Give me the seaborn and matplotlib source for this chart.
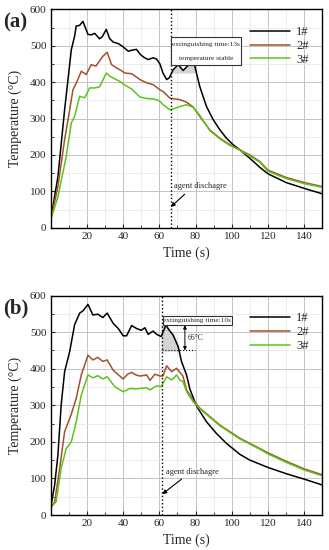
import numpy as np
import pandas as pd
import matplotlib
matplotlib.use("Agg")
from matplotlib import pyplot as plt
from matplotlib.ticker import MultipleLocator
from matplotlib.patches import Rectangle
import seaborn as sns

# ---- panel (a) ----
a1_t = [0, 4, 7.7, 11.4, 13.2, 14.1, 16, 17.8, 20.6, 22.5, 24.3, 27, 28.5, 30.7, 32.5, 34.5, 37.3, 40, 42.8, 45,
        47.4, 49.5, 51.5, 53.8, 56.6, 58.5, 60.3, 62, 64, 65.5, 67.6, 70.4, 73.1, 75.9, 78.6, 79.5, 82.3, 86, 89.7,
        93.4, 97, 100.7, 104.4, 109.9, 115.4, 120, 130, 140, 150]
a1_y = [21, 140, 324, 489, 526, 554, 556, 567, 531, 530, 534, 519, 525, 545, 520, 510, 506, 497, 485, 488,
        490, 476, 468, 462, 467, 463, 450, 425, 407, 412, 434, 448, 432, 446, 448, 445, 388, 333, 297,
        269, 246, 228, 214, 191, 166, 148, 124, 108, 93]

a2_t = [0, 4, 7.7, 10.5, 12.3, 15, 16.9, 19.6, 22.4, 25, 28.8, 31.2, 33.6, 36, 38.2, 41, 44.7, 47, 49.3, 53, 56.6,
        60.3, 62.1, 65.8, 68.5, 71.3, 75, 78.6, 82.3, 87.8, 93.4, 98.9, 104.4, 109.9, 115.4, 120, 130, 140, 150]
a2_y = [21, 113, 242, 324, 379, 407, 430, 421, 448, 444, 471, 482, 448, 440, 434, 425, 423, 415, 407, 398, 393,
        379, 374, 356, 354, 352, 345, 332, 306, 269, 246, 228, 214, 200, 182, 158, 138, 124, 113]

a3_t = [0, 4, 8.6, 11.4, 13.2, 16, 18.8, 21.5, 24.2, 27, 30.7, 32.7, 35, 38.2, 41, 44.7, 47, 49.3, 53, 56, 58.5,
        60.3, 62.1, 65.8, 68.5, 71.3, 75, 78.6, 82.3, 87.8, 93.4, 98.9, 104.4, 109.9, 115.4, 120, 130, 140, 150]
a3_y = [21, 85, 196, 288, 306, 361, 357, 384, 384, 387, 425, 416, 410, 402, 392, 381, 370, 359, 355, 354, 352,
        347, 338, 324, 328, 333, 338, 331, 309, 267, 244, 226, 213, 197, 180, 155, 135, 121, 111]

# ---- panel (b) ----
b1_t = [0, 2.2, 4, 5.8, 7.7, 10.5, 13.2, 16, 17.8, 20.6, 23.3, 26, 28.8, 31.2, 34.5, 37.3, 40, 41.9, 44.7, 47.4,
        50, 52, 53.8, 56.6, 58.5, 61, 63.6, 65.5, 67.6, 70.4, 72.2, 75, 76.8, 80.5, 86, 91.5, 97, 104.4, 110,
        120, 130, 140, 150]
b1_y = [20, 82, 164, 301, 392, 447, 520, 552, 558, 576, 547, 549, 540, 552, 524, 510, 490, 490, 518, 510,
        505, 512, 494, 503, 494, 488, 519, 505, 492, 460, 420, 383, 345, 298, 255, 223, 196, 166, 150,
        130, 113, 98, 82]

b2_t = [0, 2.2, 5, 7.7, 11.2, 14.1, 16.9, 20.6, 23.3, 26, 28.8, 31.2, 34.5, 37, 40, 42.5, 44.7, 47, 49.3, 53, 54.8,
        57.5, 60.3, 62, 64, 66.8, 69.5, 71.3, 73, 75, 78.7, 82.4, 87.9, 93.4, 98.9, 104.4, 109.9, 115.4, 120, 130,
        140, 150]
b2_y = [20, 36, 128, 228, 273, 319, 383, 437, 424, 431, 420, 424, 396, 385, 372, 385, 390, 383, 380, 383, 368,
        385, 380, 380, 408, 392, 401, 390, 380, 342, 314, 292, 269, 246, 228, 210, 196, 182, 170, 147,
        126, 110]

b3_t = [0, 3, 5.8, 8.6, 11.4, 14.1, 16.9, 20.6, 23.3, 26, 28.8, 31.2, 35.4, 40, 43.8, 47, 49.3, 53, 54.8, 58.5,
        61, 64, 66.8, 69.5, 71.3, 73, 75, 78.7, 82.4, 87.9, 93.4, 98.9, 104.4, 109.9, 115.4, 120, 130, 140, 150]
b3_y = [20, 36, 128, 182, 200, 255, 328, 383, 375, 381, 372, 378, 351, 337, 346, 345, 346, 348, 342, 353,
        351, 378, 369, 383, 369, 365, 338, 309, 290, 267, 244, 226, 208, 194, 180, 167, 144, 123, 107]

labels = ["1#", "2#", "3#"]
colors = ["#000000", "#a5502c", "#5cc41a"]

sns.set_style("ticks")
plt.rcParams['font.family'] = ['Liberation Serif', 'DejaVu Serif']

fig = plt.figure(figsize=(3.29, 5.5), dpi=100)
ax_a = fig.add_axes([0.154, 0.586, 0.826, 0.397])
ax_b = fig.add_axes([0.154, 0.0636, 0.826, 0.399])


def draw_panel(ax, series):
    for (t, y), lab, c in zip(series, labels, colors):
        df = pd.DataFrame({"t": t, "y": y})
        sns.lineplot(data=df, x="t", y="y", ax=ax, color=c, lw=1.1, label=lab, sort=False)
    ax.set_xlim(0, 150)
    ax.set_ylim(0, 600)
    ax.set_xticks(range(20, 141, 20))
    ax.set_yticks(range(0, 601, 100))
    ax.xaxis.set_minor_locator(MultipleLocator(10))
    ax.yaxis.set_minor_locator(MultipleLocator(50))
    ax.grid(which='major', color='#c4c4c4', lw=0.7)
    ax.grid(which='minor', color='#e6e6e6', lw=0.5)
    ax.set_axisbelow(True)
    ax.tick_params(which='major', direction='in', length=3, labelsize=8, pad=3)
    ax.tick_params(which='minor', direction='in', length=2)
    for s in ax.spines.values():
        s.set_linewidth(1.0)
        s.set_color('black')
    ax.set_xlabel("Time (s)", fontsize=10, labelpad=4)
    ax.set_ylabel("Temperature (°C)", fontsize=10, labelpad=6)
    ax.legend(frameon=False, loc='upper right', bbox_to_anchor=(0.99, 0.975), fontsize=9,
              handlelength=3.2, labelspacing=0.15, handletextpad=0.5)


draw_panel(ax_a, [(a1_t, a1_y), (a2_t, a2_y), (a3_t, a3_y)])
draw_panel(ax_b, [(b1_t, b1_y), (b2_t, b2_y), (b3_t, b3_y)])

# ---- annotations (a) ----
ta = np.array(a1_t)
ya = np.array(a1_y)
m = (ta >= 66.3) & (ta <= 80)
ax_a.fill_between(ta[m], 427, ya[m], where=ya[m] > 427, color='#d4d4d4', zorder=1.5, interpolate=True)
ax_a.axvline(66.3, color='black', ls=':', lw=1.0)
ax_a.add_patch(Rectangle((66.3, 448), 38.6, 77, fc='white', ec='#333333', lw=0.8, zorder=3))
ax_a.text(85.6, 503, "extinguishing time:13s", ha='center', va='center', fontsize=5.3, zorder=4)
ax_a.text(85.6, 465, "temperature stable", ha='center', va='center', fontsize=5.3, zorder=4)
ax_a.text(68.3, 103, "agent dischagre", ha='left', va='bottom', fontsize=6)
ax_a.annotate("", xy=(66.3, 57), xytext=(74, 92),
              arrowprops=dict(arrowstyle='-|>', color='black', lw=0.8, mutation_scale=6,
                              shrinkA=0, shrinkB=0))
ax_a.text(-0.175, 0.94, "(a)", transform=ax_a.transAxes, fontsize=15, fontweight='bold',
          ha='left', va='center')

# ---- annotations (b) ----
tb = np.array(b1_t)
yb = np.array(b1_y)
d = (tb >= 63.6) & (tb <= 72.2)
ys = np.linspace(450, 519, 40)
xs = np.interp(ys, yb[d][::-1], tb[d][::-1])
ax_b.fill_betweenx(ys, 61.3, xs, color='#d4d4d4', zorder=1.5)
ax_b.axvline(61.3, color='black', ls=':', lw=1.0)
ax_b.add_patch(Rectangle((61.8, 519), 38.2, 26, fc='white', ec='#333333', lw=0.8, zorder=3))
ax_b.text(80.9, 532, "extinguishing time:10s", ha='center', va='center', fontsize=5.3, zorder=4)
ax_b.plot([61.3, 79.6], [450, 450], ls=':', color='black', lw=0.8)
ax_b.annotate("", xy=(74.1, 519), xytext=(74.1, 450),
              arrowprops=dict(arrowstyle='<|-|>', color='black', lw=0.7, mutation_scale=5,
                              shrinkA=0, shrinkB=0))
ax_b.text(75.6, 485, "66°C", ha='left', va='center', fontsize=5.5)
ax_b.text(63.6, 107, "agent dischagre", ha='left', va='bottom', fontsize=6)
ax_b.annotate("", xy=(61.6, 57), xytext=(72.2, 98),
              arrowprops=dict(arrowstyle='-|>', color='black', lw=0.8, mutation_scale=6,
                              shrinkA=0, shrinkB=0))
ax_b.text(-0.175, 0.94, "(b)", transform=ax_b.transAxes, fontsize=15, fontweight='bold',
          ha='left', va='center')

fig.savefig("out.png", dpi=100)
